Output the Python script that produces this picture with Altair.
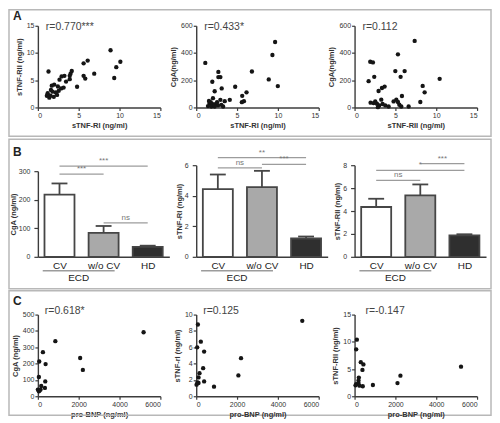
import altair as alt
import pandas as pd

FONT = "Liberation Sans"
AXC = "#3c3c3c"
BOXC = "#b8b8b8"
W = 123
HA, HB, HC = 82, 92, 82

# ---------------- Row A data ----------------
a1_rI = [1.3, 8.9, 10.1, 9.6, 9.35, 6.1, 5.6, 5.6, 5.8, 6.9, 4.8, 4.15, 4.0, 3.9, 3.45, 3.9, 2.65,
         2.9, 3.25, 2.0, 2.85, 3.15, 2.55, 2.2, 1.6, 1.8, 1.2, 1.1, 1.55, 1.95, 1.4, 2.35, 1.7, 2.45]
a1_rII = [6.6, 10.5, 8.4, 7.4, 5.4, 8.6, 8.1, 5.8, 5.3, 6.2, 3.8, 6.7, 6.2, 5.8, 4.75, 5.2, 5.1,
          5.7, 5.8, 4.2, 3.5, 3.65, 3.05, 2.75, 3.2, 2.9, 2.6, 2.15, 2.15, 1.95, 1.8, 2.3, 4.0, 3.85]

a2_rI = [1.11, 9.66, 9.33, 8.88, 9.99, 6.82, 4.77, 6.16, 5.63, 5.84, 5.59, 2.71, 2.71, 2.96, 1.97,
         3.12, 2.26, 2.05, 4.11, 3.49, 2.96, 1.77, 1.64, 1.93, 2.34, 2.67, 3.08, 3.29, 1.44, 1.85,
         2.26, 2.55, 1.56]
a2_cga = [327, 481, 385, 206, 157, 264, 152, 111, 85, 46, 39, 261, 223, 223, 189, 140, 119, 68, 56,
          46, 56, 39, 31, 27, 24, 15, 19, 7, 10, 7, 7, 39, 48]

a3_rII = [7.36, 5.31, 4.99, 6.13, 5.64, 1.92, 2.25, 2.41, 1.72, 2.94, 3.35, 3.68, 5.80, 10.42, 8.34,
          8.58, 8.05, 3.27, 1.96, 2.33, 2.74, 3.02, 3.43, 3.76, 4.17, 4.78, 5.11, 5.31, 5.48, 5.72,
          6.62, 2.86, 2.53]
a3_cga = [489, 390, 267, 267, 225, 336, 331, 225, 193, 121, 143, 153, 84, 210, 158, 111, 40, 57, 35,
          32, 27, 15, 25, 15, 7, 44, 57, 40, 20, 7, 7, 2, 44]

# ---------------- Row B data ----------------
b_cats = ["CV", "w/o CV", "HD"]
b_pos = [0, 1, 2]
b_fills = ["#ffffff", "#a9a9a9", "#2f2f2f"]

b1_mean = [218, 84, 35]
b1_err = [39, 24, 4]
b1_sig_from = [0, 0, 1]
b1_sig_to = [2, 1, 2]
b1_sig_y = [318, 290, 119]
b1_sig_txt = ["***", "***", "ns"]

b2_mean = [4.43, 4.56, 1.20]
b2_err = [0.96, 1.07, 0.13]
b2_sig_from = [0, 0, 1]
b2_sig_to = [2, 1, 2]
b2_sig_y = [6.5, 5.83, 6.05]
b2_sig_txt = ["**", "ns", "***"]

b3_mean = [4.35, 5.36, 1.88]
b3_err = [0.72, 0.96, 0.09]
b3_sig_from = [0, 0, 1]
b3_sig_to = [2, 1, 2]
b3_sig_y = [7.54, 6.67, 8.14]
b3_sig_txt = ["*", "ns", "***"]

# ---------------- Row C data ----------------
c1_bnp = [5178, 855, 2071, 2203, 247, 66, 378, 49, 362, 164, 345, 0, 82, 132, 49]
c1_cga = [392, 337, 234, 161, 270, 213, 197, 118, 91, 63, 51, 41, 35, 41, 30]

c2_bnp = [5194, 81, 226, 48, 387, 339, 161, 113, 387, 65, 113, 16, 871, 2065, 2194]
c2_rI = [9.23, 8.79, 6.68, 5.99, 5.47, 3.44, 2.83, 2.31, 1.82, 1.70, 1.62, 1.42, 1.17, 2.55, 4.66]

c3_bnp = [5214, 112, 80, 305, 433, 385, 209, 193, 193, 80, 48, 241, 401, 898, 2246, 2102]
c3_rII = [5.43, 10.39, 8.62, 6.26, 5.85, 4.84, 3.43, 2.89, 2.42, 2.24, 2.01, 1.95, 1.83, 2.07, 3.78, 2.42]


def decorations(letter, ly, box):
    out = []
    one = pd.DataFrame({"t": [letter or ""]})
    if box is not None:
        x0, x1, y0, y1 = box
        out.append(alt.Chart(one).mark_rect(fillOpacity=0, stroke=BOXC, strokeWidth=1.5).encode(
            x=alt.value(x0), x2=alt.value(x1), y=alt.value(y0), y2=alt.value(y1)))
    if letter:
        out.append(alt.Chart(one).mark_text(align="left", baseline="middle", font=FONT,
                                            fontSize=12, fontWeight="bold", color="#222").encode(
            text="t:N", x=alt.value(-25), y=alt.value(ly)))
    return out


def scatter(xs, ys, xdom, xvals, ydom, yvals, xtitle, ytitle, rtext, rdx, rdy, h,
            letter=None, ly=0, box=None):
    df = pd.DataFrame({"x": xs, "y": ys})
    pts = alt.Chart(df).mark_circle(size=19, color="#151515", opacity=1).encode(
        x=alt.X("x:Q", scale=alt.Scale(domain=xdom, nice=False, zero=False),
                axis=alt.Axis(values=xvals, title=xtitle, format="d")),
        y=alt.Y("y:Q", scale=alt.Scale(domain=ydom, nice=False, zero=False),
                axis=alt.Axis(values=yvals, title=ytitle, format="d")),
    )
    r = alt.Chart(pd.DataFrame({"t": [rtext]})).mark_text(
        align="left", baseline="middle", font=FONT, fontSize=10.5, color="#444").encode(
        text="t:N", x=alt.value(rdx), y=alt.value(rdy))
    layers = decorations(letter, ly, box) + [pts, r]
    return alt.layer(*layers).properties(width=W, height=h)


def bars(means, errs, ydom, yrange, yvals, ytitle, s_from, s_to, s_y, s_txt,
         letter=None, ly=0, box=None):
    df = pd.DataFrame({"pos": b_pos, "cat": b_cats, "mean": means, "err": errs})
    xs = alt.Scale(domain=[-0.49, 2.49], range=[0, 132], nice=False, zero=False)
    ys = alt.Scale(domain=ydom, range=yrange, nice=False, zero=False)
    lab = "[" + ",".join("'" + c + "'" for c in b_cats) + "][datum.value]"
    xaxis = alt.Axis(values=b_pos, labelExpr=lab, title=None, ticks=False, tickSize=0,
                     labelFontSize=10, labelPadding=4, labelColor="#222", labelAngle=0)
    yaxis = alt.Axis(values=yvals, title=ytitle, format="d", tickSize=4, labelPadding=4,
                     titlePadding=1)

    def X(f):
        return alt.X(f, scale=xs, axis=xaxis)

    def Y(f):
        return alt.Y(f, scale=ys, axis=yaxis)

    base = alt.Chart(df).transform_calculate(
        lo="datum.pos - 0.34", hi="datum.pos + 0.34", up="datum.mean + datum.err",
        zero="0", cl="datum.pos - 0.18", cr="datum.pos + 0.18")
    bar = base.mark_rect(stroke="#464646", strokeWidth=1.8).encode(
        x=X("lo:Q"), x2="hi:Q", y=Y("mean:Q"), y2="zero:Q",
        color=alt.Color("cat:N", scale=alt.Scale(domain=b_cats, range=b_fills), legend=None))
    err = base.mark_rule(color="#464646", strokeWidth=1.8).encode(
        x=X("pos:Q"), y=Y("mean:Q"), y2="up:Q")
    cap = base.mark_rule(color="#464646", strokeWidth=1.8).encode(
        x=X("cl:Q"), x2="cr:Q", y=Y("up:Q"))

    sdf = pd.DataFrame({"a": s_from, "b": s_to, "y": s_y, "txt": s_txt})
    sbase = alt.Chart(sdf).transform_calculate(mid="(datum.a + datum.b) / 2")
    srule = sbase.mark_rule(color="#9c9c9c", strokeWidth=1.3).encode(
        x=X("a:Q"), x2="b:Q", y=Y("y:Q"))
    stxt = sbase.mark_text(baseline="bottom", dy=-1, font=FONT, fontSize=8, color="#777").encode(
        x=X("mid:Q"), y=Y("y:Q"), text="txt:N")

    edf = pd.DataFrame({"a": [-0.38], "b": [1.25], "t": ["ECD"]})
    ebase = alt.Chart(edf).transform_calculate(mid="(datum.a + datum.b) / 2")
    erule = ebase.mark_rule(color="#9c9c9c", strokeWidth=1.3).encode(
        x=X("a:Q"), x2="b:Q", y=alt.value(HB + 14))
    etxt = ebase.mark_text(baseline="middle", font=FONT, fontSize=10, color="#222").encode(
        x=X("mid:Q"), y=alt.value(HB + 21), text="t:N")

    layers = decorations(letter, ly, box) + [bar, err, cap, srule, stxt, erule, etxt]
    return alt.layer(*layers).properties(width=W, height=HB)


a1 = scatter(a1_rI, a1_rII, [0, 15], [0, 5, 10, 15], [0, 15], [0, 5, 10, 15],
             "sTNF-RI (ng/ml)", "sTNF-RII (ng/ml)", "r=0.770***", 8, 1, HA,
             letter="A", ly=-10, box=(-29, 455, -16, 111))
a2 = scatter(a2_rI, a2_cga, [0, 15], [0, 5, 10, 15], [0, 600], [0, 200, 400, 600],
             "sTNF-RI (ng/ml)", "CgA(ng/ml)", "r=0.433*", 8, 1, HA)
a3 = scatter(a3_rII, a3_cga, [0, 15], [0, 5, 10, 15], [0, 600], [0, 200, 400, 600],
             "sTNF-RII (ng/ml)", "CgA(ng/ml)", "r=0.112", 8, 1, HA)

b1 = bars(b1_mean, b1_err, [0, 300], [HB, 6], [0, 100, 200, 300], "CgA (ng/ml)",
          b1_sig_from, b1_sig_to, b1_sig_y, b1_sig_txt, letter="B", ly=-13,
          box=(-29, 455, -26, 124))
b2 = bars(b2_mean, b2_err, [0, 6], [HB, 0], [0, 2, 4, 6], "sTNF-RI (ng/ml)",
          b2_sig_from, b2_sig_to, b2_sig_y, b2_sig_txt)
b3 = bars(b3_mean, b3_err, [0, 8], [HB, 0], [0, 2, 4, 6, 8], "sTNF-RII (ng/ml)",
          b3_sig_from, b3_sig_to, b3_sig_y, b3_sig_txt)

bnp_ticks = [0, 2000, 4000, 6000]
c1 = scatter(c1_bnp, c1_cga, [0, 6000], bnp_ticks, [0, 500], [0, 100, 200, 300, 400, 500],
             "pro-BNP (ng/ml)", "CgA (ng/ml)", "r=0.618*", 7, -4, HC,
             letter="C", ly=-14, box=(-29, 455, -24, 101))
c2 = scatter(c2_bnp, c2_rI, [0, 6000], bnp_ticks, [0, 10], [0, 2, 4, 6, 8, 10],
             "pro-BNP (ng/ml)", "sTNF-rI (ng/ml)", "r=0.125", 7, -4, HC)
c3 = scatter(c3_bnp, c3_rII, [0, 6000], bnp_ticks, [0, 15], [0, 5, 10, 15],
             "pro-BNP (ng/ml)", "sTNF-RII (ng/ml)", "r=-0.147", 11, -4, HC)

chart = alt.ConcatChart(
    concat=[a1, a2, a3, b1, b2, b3, c1, c2, c3],
    columns=3,
    spacing={"row": 58, "column": 36},
    bounds="flush",
).properties(padding=0, background="white").configure_axis(
    domainColor=AXC, domainWidth=1.4, tickColor=AXC, tickWidth=1.2, tickSize=3,
    labelFont=FONT, labelFontSize=7, labelColor="#333",
    titleFont=FONT, titleFontSize=7.5, titleFontWeight="bold", titleColor="#333",
    grid=False, labelPadding=1, titlePadding=3,
).configure_view(stroke=None)

chart.save("out.html", embed_options={"renderer": "svg", "actions": False})
